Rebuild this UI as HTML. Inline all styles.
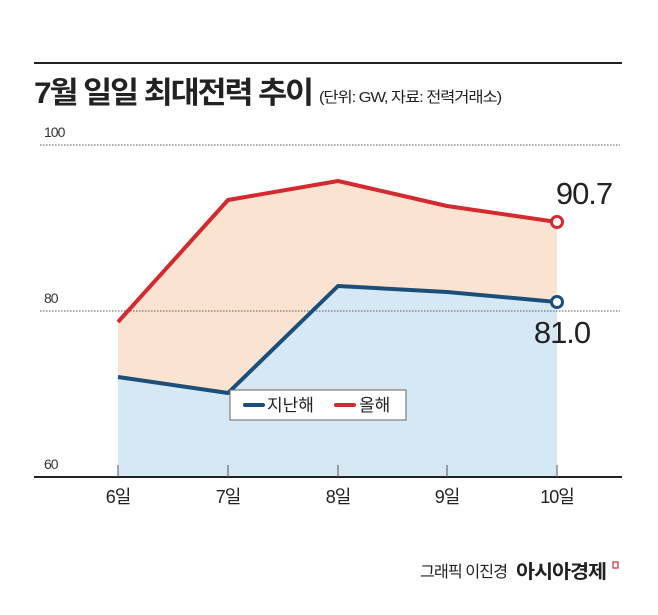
<!DOCTYPE html>
<html><head><meta charset="utf-8"><style>
body{margin:0;background:#fff;}
svg text{font-family:"Liberation Sans","Noto Sans CJK KR",sans-serif;}
</style></head><body>
<svg width="658" height="610" viewBox="0 0 658 610" xmlns="http://www.w3.org/2000/svg">
<rect width="658" height="610" fill="#fff"/>
<line x1="34" y1="63" x2="622" y2="63" stroke="#222" stroke-width="2"/>
<text x="34" y="103" font-size="30" font-weight="bold" fill="#222" letter-spacing="-2" textLength="278" lengthAdjust="spacingAndGlyphs">7월 일일 최대전력 추이</text>
<text x="319" y="102" font-size="15" fill="#222" letter-spacing="-1" textLength="182" lengthAdjust="spacingAndGlyphs">(단위: GW, 자료: 전력거래소)</text>
<text x="44" y="137" font-size="14" fill="#333" letter-spacing="-1">100</text>
<line x1="40" y1="145" x2="620" y2="145" stroke="#555" stroke-width="1" stroke-dasharray="1.5,1.5"/>
<text x="44" y="303" font-size="14" fill="#333" letter-spacing="-1">80</text>
<polygon points="118,322 228,200 338,181 447,206 557,222 557,477 118,477" fill="#fbe3d1"/>
<polygon points="118,377 228,393 338,286 447,292 557,302 557,477 118,477" fill="#d6e8f3"/>
<line x1="40" y1="311" x2="620" y2="311" stroke="#555" stroke-width="1" stroke-dasharray="1.5,1.5"/>
<polyline points="118,322 228,200 338,181 447,206 557,222" fill="none" stroke="#d42a2f" stroke-width="4" stroke-linejoin="round"/>
<polyline points="118,377 228,393 338,286 447,292 557,302" fill="none" stroke="#1b4f7a" stroke-width="4" stroke-linejoin="round"/>
<circle cx="557" cy="222" r="5.5" fill="#fff" stroke="#d42a2f" stroke-width="3"/>
<circle cx="557" cy="302" r="5.5" fill="#fff" stroke="#1b4f7a" stroke-width="3"/>
<text x="584" y="204" font-size="31" fill="#222" text-anchor="middle" letter-spacing="-1">90.7</text>
<text x="562" y="343" font-size="31" fill="#222" text-anchor="middle" letter-spacing="-1">81.0</text>
<rect x="230" y="390" width="176" height="30" fill="#fff" stroke="#666" stroke-width="1"/>
<line x1="245" y1="405" x2="263" y2="405" stroke="#1b4f7a" stroke-width="4" stroke-linecap="round"/>
<text x="267" y="411" font-size="17" fill="#222">지난해</text>
<line x1="336" y1="405" x2="354" y2="405" stroke="#d42a2f" stroke-width="4" stroke-linecap="round"/>
<text x="359" y="411" font-size="17" fill="#222">올해</text>
<text x="44" y="469" font-size="14" fill="#333" letter-spacing="-1">60</text>
<line x1="34" y1="477" x2="622" y2="477" stroke="#222" stroke-width="2"/>
<g stroke="#555" stroke-width="1">
<line x1="118" y1="465" x2="118" y2="477"/><line x1="228" y1="465" x2="228" y2="477"/><line x1="338" y1="465" x2="338" y2="477"/><line x1="447" y1="465" x2="447" y2="477"/><line x1="557" y1="465" x2="557" y2="477"/>
</g>
<g font-size="18" fill="#222" text-anchor="middle" letter-spacing="-1">
<text x="118" y="503">6일</text><text x="228" y="503">7일</text><text x="338" y="503">8일</text><text x="447" y="503">9일</text><text x="557" y="503">10일</text>
</g>
<text x="420" y="577" font-size="16" fill="#222" letter-spacing="-1" textLength="87" lengthAdjust="spacingAndGlyphs">그래픽 이진경</text>
<text x="516" y="578" font-size="19" font-weight="bold" fill="#222" letter-spacing="-1" textLength="90" lengthAdjust="spacingAndGlyphs">아시아경제</text>
<rect x="613" y="562" width="5" height="6" fill="none" stroke="#d42a2f" stroke-width="1.2"/>
</svg>
</body></html>
